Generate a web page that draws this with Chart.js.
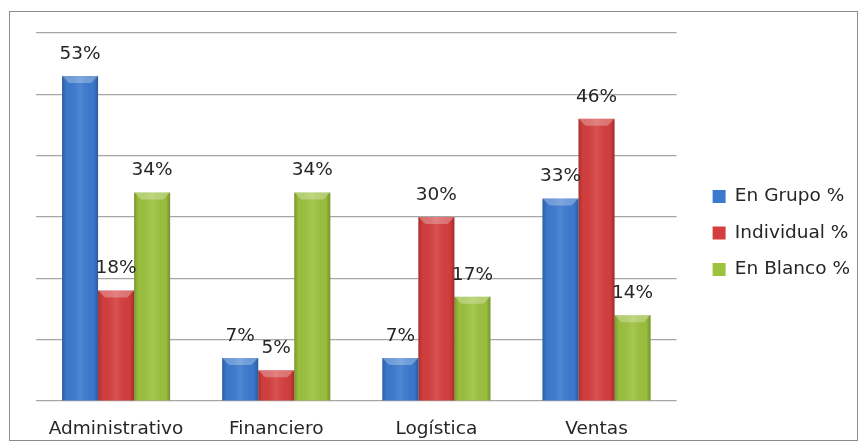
<!DOCTYPE html>
<html>
<head>
<meta charset="utf-8">
<script src="https://cdn.jsdelivr.net/npm/chart.js@4"></script>
<style>
  html, body { margin: 0; padding: 0; background: #fff; }
  #wrap { position: relative; width: 865px; height: 445px; }
</style>
</head>
<body>
<div id="wrap"><canvas id="encuestaChart" width="865" height="445"></canvas></div>
<script>
// categorias y porcentajes por tipo de respuesta
const areas = ['Administrativo', 'Financiero', 'Logística', 'Ventas'];
const enGrupo = [53, 7, 7, 33];
const individual = [18, 5, 30, 46];
const enBlanco = [34, 34, 17, 14];
const seriesNames = ['En Grupo %', 'Individual %', 'En Blanco %'];
const yTicks = [0, 10, 20, 30, 40, 50, 60];

const colores = ['#3b79cf', '#d53e3e', '#9cc23e'];
const FONT = '"DejaVu Sans", "Open Sans", sans-serif';
const FSIZE = 18.5;

// sombreado tipo bisel encima de cada barra
const biselPlugin = {
  id: 'bisel',
  afterDatasetsDraw(chart) {
    const ctx = chart.ctx;
    chart.data.datasets.forEach((ds, i) => {
      const meta = chart.getDatasetMeta(i);
      meta.data.forEach(bar => {
        const { x, y, width, base } = bar.getProps(['x', 'y', 'width', 'base'], true);
        const l = x - width / 2, r = x + width / 2;
        const g = ctx.createLinearGradient(l, 0, r, 0);
        g.addColorStop(0, 'rgba(0,0,0,0.22)');
        g.addColorStop(0.12, 'rgba(0,0,0,0.02)');
        g.addColorStop(0.5, 'rgba(255,255,255,0.10)');
        g.addColorStop(0.88, 'rgba(0,0,0,0.02)');
        g.addColorStop(1, 'rgba(0,0,0,0.25)');
        ctx.save();
        ctx.fillStyle = g;
        ctx.fillRect(l, y, width, base - y);
        const b = Math.min(7, (base - y) / 2);
        ctx.beginPath();
        ctx.moveTo(l, y);
        ctx.lineTo(r, y);
        ctx.lineTo(r - b, y + b);
        ctx.lineTo(l + b, y + b);
        ctx.closePath();
        ctx.fillStyle = 'rgba(255,255,255,0.28)';
        ctx.fill();
        ctx.restore();
      });
    });
  }
};

// etiquetas de valor sobre las barras
const valoresPlugin = {
  id: 'valores',
  afterDatasetsDraw(chart) {
    const ctx = chart.ctx;
    ctx.save();
    ctx.font = FSIZE + 'px ' + FONT;
    ctx.fillStyle = '#262626';
    ctx.textAlign = 'center';
    ctx.textBaseline = 'middle';
    chart.data.datasets.forEach((ds, i) => {
      chart.getDatasetMeta(i).data.forEach((bar, j) => {
        ctx.fillText(ds.data[j] + '%', bar.x, bar.y - 22);
      });
    });
    ctx.restore();
  }
};

// deja un hueco entre las barras y la leyenda, y la sube un poco
const leyendaPlugin = {
  id: 'leyendaPos',
  afterLayout(chart) {
    const lg = chart.legend;
    if (!lg) return;
    lg.left += 18;
    lg.right += 18;
    lg.top -= 6;
    lg.bottom -= 6;
  }
};

// marco exterior del grafico
const marcoPlugin = {
  id: 'marco',
  afterDraw(chart) {
    const ctx = chart.ctx;
    ctx.save();
    ctx.strokeStyle = '#8c8c8c';
    ctx.lineWidth = 1;
    ctx.strokeRect(9.5, 11.5, 848, 429);
    ctx.restore();
  }
};

const ctx = document.getElementById('encuestaChart').getContext('2d');
const datasets = [enGrupo, individual, enBlanco].map((d, i) => ({
  label: seriesNames[i],
  data: d,
  backgroundColor: colores[i],
  borderWidth: 0,
  categoryPercentage: 0.675,
  barPercentage: 1
}));

new Chart(ctx, {
  type: 'bar',
  data: { labels: areas, datasets: datasets },
  options: {
    responsive: false,
    animation: false,
    layout: { padding: { left: 36, right: 23, top: 33, bottom: 0 } },
    plugins: {
      tooltip: { enabled: false },
      legend: {
        position: 'right',
        labels: {
          boxWidth: 13,
          boxHeight: 13,
          padding: 18,
          color: '#262626',
          font: { family: FONT, size: FSIZE }
        }
      }
    },
    scales: {
      x: {
        grid: { display: false },
        border: { display: false },
        afterFit(axis) { axis.height = 44; },
        ticks: { color: '#262626', padding: 9, font: { family: FONT, size: FSIZE } }
      },
      y: {
        min: 0,
        max: 60,
        afterBuildTicks(axis) { axis.ticks = yTicks.map(v => ({ value: v })); },
        ticks: { display: false },
        grid: { color: '#a6a6a6', lineWidth: 1.2, drawTicks: false },
        border: { display: false }
      }
    }
  },
  plugins: [biselPlugin, valoresPlugin, leyendaPlugin, marcoPlugin]
});
</script>
</body>
</html>
